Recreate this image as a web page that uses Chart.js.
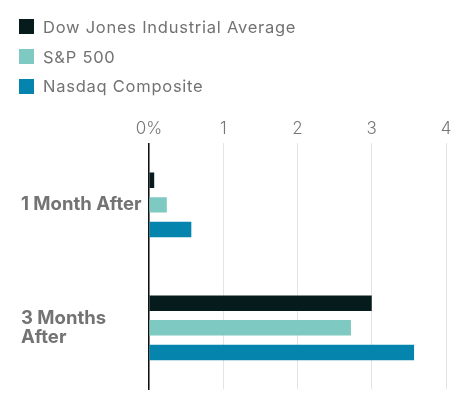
<!DOCTYPE html>
<html>
    <head>
        <meta charset="utf-8">
        <title>Index returns after</title>
        <script src="https://cdn.jsdelivr.net/npm/chart.js"></script>
        <style>
            body {
                margin: 0;
                font-family: Inter, sans-serif;
            }
            .wrap {
                position: relative;
                width: 460px;
                height: 405px;
            }
            #legend {
                position: absolute;
                left: 19px;
                top: 12px;
                margin: 0;
                padding: 0;
                list-style: none;
            }
            #legend li {
                height: 29.7px;
                display: flex;
                align-items: center;
                font-size: 16.5px;
                letter-spacing: 0.75px;
                color: #727272;
            }
            #legend span {
                display: inline-block;
                width: 15px;
                height: 15px;
                margin-right: 9px;
            }
        </style>
</head>
<body>
<div class="wrap">
    <ul id="legend"></ul>
    <canvas id="chart" width="460" height="405"></canvas>
</div>
<script>
    var categories = ["1 Month After", ["3 Months", "After"]];
    var seriesNames = ["Dow Jones Industrial Average", "S&P 500", "Nasdaq Composite"];
    var dowValues = [0.07, 3.0];
    var spValues = [0.24, 2.72];
    var nasdaqValues = [0.57, 3.57];
    var tickValues = [0, 1, 2, 3, 4];
    var colors = ["#061c1c", "#7ecac2", "#0584ad"];

    var allValues = [dowValues, spValues, nasdaqValues];
    var datasets = seriesNames.map(function(name, i) {
        return {
            label: name,
            data: allValues[i],
            backgroundColor: colors[i],
            categoryPercentage: 0.6,
            barPercentage: 0.63
        };
    });

    var ctx = document.getElementById("chart").getContext("2d");
    var chart = new Chart(ctx, {
        type: 'bar',
        data: { labels: categories, datasets: datasets },
        options: {
            indexAxis: 'y',
            responsive: false,
            animation: false,
            layout: { padding: { top: 115, left: 21, right: 14, bottom: 13 } },
            plugins: {
                legend: { display: false },
                tooltip: { enabled: false }
            },
            scales: {
                x: {
                    position: 'top',
                    min: tickValues[0],
                    max: tickValues[tickValues.length - 1],
                    afterBuildTicks: function(scale) {
                        scale.ticks = tickValues.map(function(v) { return { value: v }; });
                    },
                    grid: { color: '#e4e4e4', drawTicks: false },
                    border: { display: false },
                    ticks: {
                        padding: 4,
                        color: '#777',
                        font: { family: 'Inter', size: 17, weight: 300 },
                        callback: function(v) { return v === 0 ? '0%' : v; }
                    }
                },
                y: {
                    grid: { display: false, drawTicks: false },
                    border: { display: true, color: '#111', width: 1.5 },
                    afterFit: function(scale) { scale.width = 128; },
                    ticks: {
                        crossAlign: 'far',
                        padding: 6,
                        color: '#737373',
                        font: { family: 'Inter', size: 18.5, weight: 'bold', lineHeight: 1.05 }
                    }
                }
            }
        }
    });

    var legend = document.getElementById("legend");
    chart.data.datasets.forEach(function(ds) {
        var li = document.createElement("li");
        var box = document.createElement("span");
        box.style.background = ds.backgroundColor;
        li.appendChild(box);
        li.appendChild(document.createTextNode(ds.label));
        legend.appendChild(li);
    });
</script>
</body>
</html>
